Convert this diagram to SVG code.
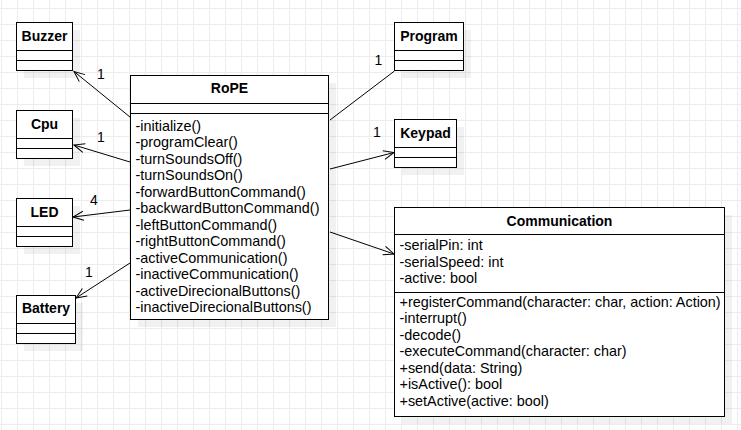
<svg xmlns="http://www.w3.org/2000/svg" width="741" height="430" viewBox="0 0 741 430">
<style>
.box{fill:#fff;stroke:#000;stroke-width:1}
.sh{fill:#000;fill-opacity:0.055}
.sep{stroke:#000;stroke-width:1;fill:none}
.hd{font-family:"Liberation Sans",Arial,sans-serif;font-size:14px;font-weight:bold;text-anchor:middle;fill:#000}
.tx{font-family:"Liberation Sans",Arial,sans-serif;font-size:14.4px;fill:#000}
.lb{font-family:"Liberation Sans",Arial,sans-serif;font-size:14px;fill:#000;text-anchor:middle}
.cn{stroke:#000;stroke-width:1;fill:none}
</style>
<defs>
<pattern id="grid" patternUnits="userSpaceOnUse" x="1" y="8" width="16" height="16">
<rect x="0" y="0" width="1" height="16" fill="#ececec"/>
<rect x="0" y="0" width="16" height="1" fill="#ececec"/>
</pattern>
<marker id="open" markerUnits="userSpaceOnUse" markerWidth="14" markerHeight="12" refX="11" refY="5" orient="auto" overflow="visible">
<path d="M0.5,0.5 L11,5 L0.5,9.5" fill="none" stroke="#000" stroke-width="1"/>
</marker>
</defs>
<rect width="741" height="430" fill="#fff"/>
<rect width="741" height="430" fill="url(#grid)"/>

<g id="connectors">
<line class="cn" x1="130" y1="117" x2="74" y2="71.5" marker-end="url(#open)"/>
<line class="cn" x1="130" y1="162" x2="74" y2="145" marker-end="url(#open)"/>
<line class="cn" x1="130" y1="210" x2="73" y2="217" marker-end="url(#open)"/>
<line class="cn" x1="130" y1="263" x2="76" y2="298" marker-end="url(#open)"/>
<line class="cn" x1="330" y1="120" x2="394.5" y2="71"/>
<line class="cn" x1="330" y1="169" x2="394" y2="152.5" marker-end="url(#open)"/>
<line class="cn" x1="330" y1="232" x2="394" y2="254" marker-end="url(#open)"/>
<text class="lb" x="101" y="79">1</text>
<text class="lb" x="101" y="142">1</text>
<text class="lb" x="94" y="205">4</text>
<text class="lb" x="89" y="277">1</text>
<text class="lb" x="378.5" y="65">1</text>
<text class="lb" x="377" y="137">1</text>
</g>

<g id="Buzzer">
<rect class="sh" x="24" y="30" width="56" height="48"/>
<rect class="box" x="16.5" y="22.5" width="56" height="48"/>
<path class="sep" d="M16.5,50.5H72.5M16.5,60.5H72.5"/>
<text class="hd" x="44.5" y="41">Buzzer</text>
</g>

<g id="Cpu">
<rect class="sh" x="24" y="118" width="56" height="48"/>
<rect class="box" x="16.5" y="110.5" width="56" height="48"/>
<path class="sep" d="M16.5,138.5H72.5M16.5,148.5H72.5"/>
<text class="hd" x="44.5" y="129">Cpu</text>
</g>

<g id="LED">
<rect class="sh" x="24" y="206" width="56" height="48"/>
<rect class="box" x="16.5" y="198.5" width="56" height="48"/>
<path class="sep" d="M16.5,226.5H72.5M16.5,236.5H72.5"/>
<text class="hd" x="44.5" y="217">LED</text>
</g>

<g id="Battery">
<rect class="sh" x="24" y="303" width="59" height="48"/>
<rect class="box" x="16.5" y="295.5" width="59" height="48"/>
<path class="sep" d="M16.5,323.5H75.5M16.5,333.5H75.5"/>
<text class="hd" x="46" y="312.5">Battery</text>
</g>

<g id="Program">
<rect class="sh" x="402" y="30" width="69" height="48"/>
<rect class="box" x="394.5" y="22.5" width="69" height="48"/>
<path class="sep" d="M394.5,50.5H463.5M394.5,60.5H463.5"/>
<text class="hd" x="429" y="41">Program</text>
</g>

<g id="Keypad">
<rect class="sh" x="402" y="127" width="62" height="48"/>
<rect class="box" x="394.5" y="119.5" width="62" height="48"/>
<path class="sep" d="M394.5,147.5H456.5M394.5,157.5H456.5"/>
<text class="hd" x="425.5" y="138">Keypad</text>
</g>

<g id="RoPE">
<rect class="sh" x="138" y="83" width="198" height="244"/>
<rect class="box" x="130.5" y="75.5" width="198" height="244"/>
<path class="sep" d="M130.5,103.5H328.5M130.5,113.5H328.5"/>
<text class="hd" x="229.5" y="93">RoPE</text>
<text class="tx" x="135.5" y="130.5">-initialize()</text>
<text class="tx" x="135.5" y="147">-programClear()</text>
<text class="tx" x="135.5" y="163.5">-turnSoundsOff()</text>
<text class="tx" x="135.5" y="180">-turnSoundsOn()</text>
<text class="tx" x="135.5" y="196.5">-forwardButtonCommand()</text>
<text class="tx" x="135.5" y="213">-backwardButtonCommand()</text>
<text class="tx" x="135.5" y="229.5">-leftButtonCommand()</text>
<text class="tx" x="135.5" y="246">-rightButtonCommand()</text>
<text class="tx" x="135.5" y="262.5">-activeCommunication()</text>
<text class="tx" x="135.5" y="279">-inactiveCommunication()</text>
<text class="tx" x="135.5" y="295.5">-activeDirecionalButtons()</text>
<text class="tx" x="135.5" y="312">-inactiveDirecionalButtons()</text>
</g>

<g id="Communication">
<rect class="sh" x="402" y="215" width="330" height="209"/>
<rect class="box" x="394.5" y="207.5" width="330" height="209"/>
<path class="sep" d="M394.5,234.5H724.5M394.5,292.5H724.5"/>
<text class="hd" x="559.5" y="225.5">Communication</text>
<text class="tx" x="399.5" y="250">-serialPin: int</text>
<text class="tx" x="399.5" y="266.5">-serialSpeed: int</text>
<text class="tx" x="399.5" y="283">-active: bool</text>
<text class="tx" x="399.5" y="306.7">+registerCommand(character: char, action: Action)</text>
<text class="tx" x="399.5" y="323.2">-interrupt()</text>
<text class="tx" x="399.5" y="339.7">-decode()</text>
<text class="tx" x="399.5" y="356.2">-executeCommand(character: char)</text>
<text class="tx" x="399.5" y="372.7">+send(data: String)</text>
<text class="tx" x="399.5" y="389.2">+isActive(): bool</text>
<text class="tx" x="399.5" y="405.7">+setActive(active: bool)</text>
</g>
</svg>
